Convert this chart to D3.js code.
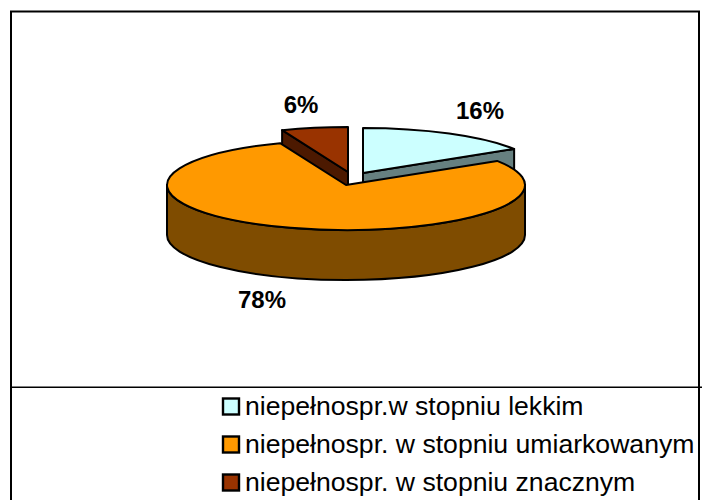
<!DOCTYPE html>
<html><head><meta charset="utf-8">
<script src="https://cdn.jsdelivr.net/npm/d3@7"></script>
<style>html,body{margin:0;padding:0;background:#fff}svg{display:block}text{font-family:"Liberation Sans",Arial,sans-serif}</style>
</head><body><svg id="c" width="702" height="500"></svg>
<script>
const categories = ["niepełnospr.w stopniu lekkim","niepełnospr. w stopniu umiarkowanym","niepełnospr. w stopniu znacznym"];
const values = [16,78,6];
const labels = ["16%","78%","6%"];
const topColors = ["#CCFFFF","#FF9900","#993300"];
const wallColors = ["#668080","#7F4C00","#4C1900"];

const svg = d3.select("#c");
const rx=179, ry=45, depth=50, cx=346, cy=185;
const offsets=[[17,-12],[0,0],[2,-13]];
const labelPos=[[480,119],[262,308],[301,113]];

// frame
svg.append("path").attr("d","M11,500V11.5H699V500").attr("fill","none").attr("stroke","#000").attr("stroke-width",2);
svg.append("path").attr("d","M11,387.3H702").attr("fill","none").attr("stroke","#000").attr("stroke-width",1.5);

const arcs=d3.pie().sort(null)(values);
const px=(a,ox)=>cx+ox+rx*Math.sin(a), py=(a,oy)=>cy+oy-ry*Math.cos(a);
function sector(d,ox,oy){
  const x0=px(d.startAngle,ox),y0=py(d.startAngle,oy),x1=px(d.endAngle,ox),y1=py(d.endAngle,oy);
  const large=(d.endAngle-d.startAngle)>Math.PI?1:0;
  return `M${cx+ox},${cy+oy}L${x0},${y0}A${rx},${ry} 0 ${large} 1 ${x1},${y1}Z`;
}
function outerWall(d,ox,oy){
  const a0=Math.max(d.startAngle,Math.PI/2),a1=Math.min(d.endAngle,3*Math.PI/2);
  if(a1<=a0) return null;
  const x0=px(a0,ox),y0=py(a0,oy),x1=px(a1,ox),y1=py(a1,oy);
  return `M${x0},${y0}A${rx},${ry} 0 0 1 ${x1},${y1}L${x1},${y1+depth}A${rx},${ry} 0 0 0 ${x0},${y0+depth}Z`;
}
function radialWall(a,ox,oy){
  const ax=cx+ox,ay=cy+oy,x=px(a,ox),y=py(a,oy);
  return `M${ax},${ay}L${x},${y}L${x},${y+depth}L${ax},${ay+depth}Z`;
}
const g=svg.append("g").attr("stroke","#000").attr("stroke-width",2).attr("stroke-linejoin","round");
[0,2,1].forEach(i=>{
  const d=arcs[i],[ox,oy]=offsets[i];
  if(i===0) g.append("path").attr("d",radialWall(d.endAngle,ox,oy)).attr("fill",wallColors[i]);
  if(i===2) g.append("path").attr("d",radialWall(d.startAngle,ox,oy)).attr("fill",wallColors[i]);
  const w=outerWall(d,ox,oy);
  if(w) g.append("path").attr("d",w).attr("fill",wallColors[i]);
  g.append("path").attr("d",sector(d,ox,oy)).attr("fill",topColors[i]);
});
svg.selectAll("text.pct").data(labels).join("text").attr("class","pct")
  .attr("x",(d,i)=>labelPos[i][0]).attr("y",(d,i)=>labelPos[i][1])
  .attr("text-anchor","middle").attr("font-size",24).attr("font-weight","bold").attr("fill","#000").text(d=>d);
// legend
const ly=d3.scalePoint().domain(categories).range([406.5,482.5]);
const lg=svg.selectAll("g.l").data(categories).join("g").attr("class","l");
lg.append("rect").attr("x",223).attr("y",d=>ly(d)-8).attr("width",16).attr("height",16)
  .attr("fill",(d,i)=>topColors[i]).attr("stroke","#000").attr("stroke-width",2.4);
lg.append("text").attr("x",245).attr("y",d=>ly(d)+8.7).attr("font-size",26.6).attr("fill","#000").text(d=>d);
</script></body></html>
